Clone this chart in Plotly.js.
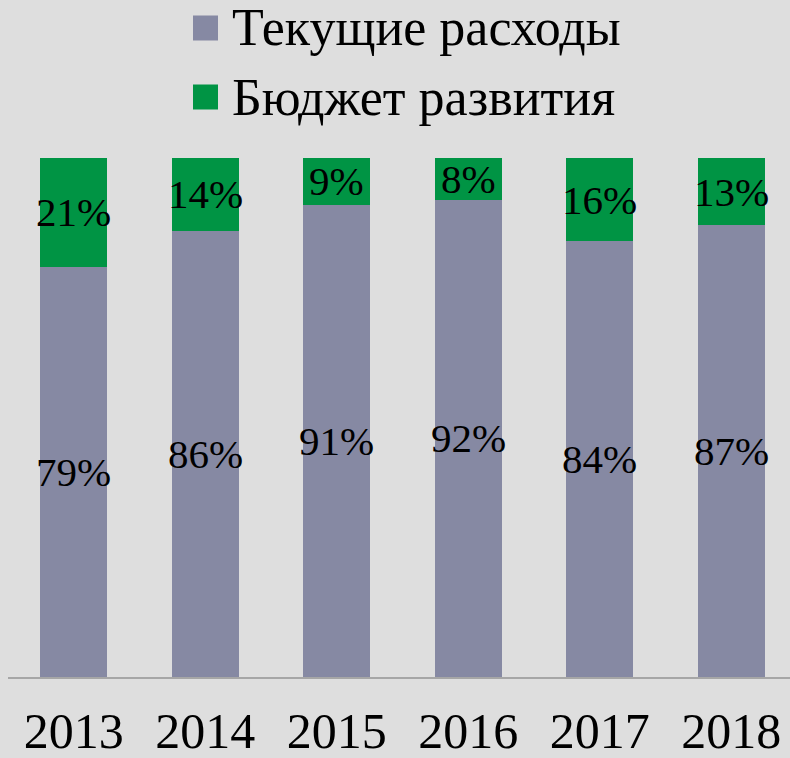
<!DOCTYPE html>
<html>
<head>
<meta charset="utf-8">
<script src="https://cdn.plot.ly/plotly-3.0.1.min.js"></script>
<style>
  html, body { margin: 0; padding: 0; background: #DEDEDE; }
  #chart { width: 790px; height: 758px; }
</style>
</head>
<body>
<div id="chart"></div>
<script>
const years = ['2013', '2014', '2015', '2016', '2017', '2018'];
const currentExp = [79, 86, 91, 92, 84, 87];
const devBudget = [21, 14, 9, 8, 16, 13];
const seriesNames = ['Текущие расходы', 'Бюджет развития'];
const seriesColors = ['#8689A3', '#009444'];

const W = 790, H = 758;
const M = { l: 8, r: 0, t: 158, b: 81 };
const pw = W - M.l - M.r, ph = H - M.t - M.b;
const px = v => (v - M.l) / pw;
const py = v => (H - M.b - v) / ph;

const FONT = 'Liberation Serif, DejaVu Serif, serif';

const traces = [
  { type: 'bar', x: years, y: currentExp, name: seriesNames[0], marker: { color: seriesColors[0] } },
  { type: 'bar', x: years, y: devBudget, name: seriesNames[1], marker: { color: seriesColors[1] } }
];

const annotations = [];
years.forEach((yr, i) => {
  annotations.push({ x: i, y: currentExp[i] / 2, xref: 'x', yref: 'y', text: currentExp[i] + '%',
    showarrow: false, font: { family: FONT, size: 41, color: '#000' } });
  annotations.push({ x: i, y: currentExp[i] + devBudget[i] / 2, xref: 'x', yref: 'y', text: devBudget[i] + '%',
    showarrow: false, font: { family: FONT, size: 41, color: '#000' } });
});

const shapes = [];
const legendRows = [28, 97];
seriesNames.forEach((nm, i) => {
  const cy = legendRows[i];
  shapes.push({ type: 'rect', xref: 'paper', yref: 'paper', x0: px(193), x1: px(218), y0: py(cy - 12.5), y1: py(cy + 12.5),
    fillcolor: seriesColors[i], line: { width: 0 } });
  annotations.push({ xref: 'paper', yref: 'paper', x: px(230), y: py(cy), xanchor: 'left', yanchor: 'middle',
    text: nm, showarrow: false, font: { family: FONT, size: 52, color: '#000' } });
});

const layout = {
  width: W, height: H,
  margin: M,
  paper_bgcolor: '#DEDEDE', plot_bgcolor: '#DEDEDE',
  barmode: 'stack', bargap: 0.49,
  showlegend: false,
  xaxis: {
    type: 'category',
    range: [-0.5, 5.447], showgrid: false, zeroline: false,
    showline: true, linecolor: '#A6A6A6', linewidth: 2,
    ticks: '', tickfont: { family: FONT, size: 50, color: '#000' },
    ticklabelstandoff: 9
  },
  yaxis: { range: [0, 100], visible: false, showgrid: false, zeroline: false },
  annotations: annotations,
  shapes: shapes
};

Plotly.newPlot('chart', traces, layout, { staticPlot: true, displayModeBar: false });
</script>
</body>
</html>
